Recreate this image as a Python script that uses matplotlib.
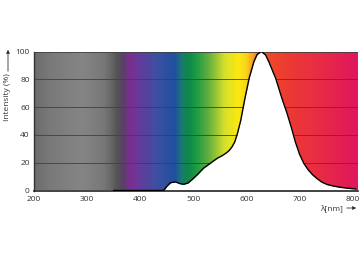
import numpy as np
import matplotlib
matplotlib.use("Agg")
import matplotlib.pyplot as plt
from matplotlib.colors import LinearSegmentedColormap

# Spectrum data (wavelength in nm, relative intensity in %)
wavelength = [350, 444, 450, 457, 466, 476, 482, 490, 498, 507, 519, 532, 545,
              554, 562, 568, 573, 578, 583, 589, 597, 605, 614, 620, 628, 636,
              642, 655, 667, 676, 684, 692, 700, 708, 716, 724, 733, 742, 752,
              765, 777, 792, 806]
intensity = [0, 0, 3, 5.6, 6.2, 4.8, 4.5, 5.4, 8, 11.2, 16, 19.6, 23.2,
             25, 27, 29, 31.5, 35, 41, 50, 66, 80.7, 92.7, 97.8, 100, 97.5,
             92.7, 80.7, 66, 56, 46, 35, 26, 19.5, 15, 11.5, 8.5, 6, 4.3,
             3.1, 2.3, 1.6, 1.1]

x_ticks = [200, 300, 400, 500, 600, 700, 800]
y_ticks = [0, 20, 40, 60, 80, 100]

# background colour bands (wavelength -> colour)
band_nm = [200, 230, 290, 330, 345, 355, 368, 380, 400, 430, 465, 478, 490, 505,
           530, 560, 585, 600, 612, 622, 640, 680, 740, 810]
band_col = ["#6c6c6c", "#7a7a7a", "#858585", "#787878", "#666666", "#555555",
            "#5a3f6a", "#7c2e90", "#623c9c", "#3e4fa2", "#2050a0", "#1a7a70",
            "#0e8848", "#1a9a45", "#66b040", "#d8e02a", "#fbe910", "#f9d41b",
            "#f5a521", "#f27a25", "#ef4a2a", "#ec3a33", "#e82b45", "#e0175c"]

XMIN, XMAX = 200, 810

plt.rcParams['font.family'] = ['Open Sans', 'DejaVu Sans']
fig = plt.figure(figsize=(3.6, 2.62), dpi=100)
ax = fig.add_axes([34/360, 71.5/262, 324/360, 139/262])

pos = [(v - XMIN) / (XMAX - XMIN) for v in band_nm]
cmap = LinearSegmentedColormap.from_list("spec", list(zip(pos, band_col)))
grad = np.linspace(0, 1, 600).reshape(1, -1)
ax.imshow(grad, cmap=cmap, aspect='auto', extent=[XMIN, XMAX, 0, 100],
          interpolation='bilinear', zorder=0)

for yv in y_ticks[1:]:
    ax.axhline(yv, color='#404040', lw=0.6, zorder=1)

ax.fill_between(wavelength, intensity, 0, color='white', lw=0, zorder=2)
ax.plot(wavelength, intensity, color='black', lw=1.0, zorder=3,
        solid_joinstyle='round')

ax.set_xlim(XMIN, XMAX)
ax.set_ylim(0, 100)
ax.set_xticks(x_ticks)
ax.set_yticks(y_ticks)
ax.tick_params(length=0, labelsize=6, colors='#333333')
ax.tick_params(axis='x', pad=4)
ax.tick_params(axis='y', pad=3)
for s in ['top', 'right']:
    ax.spines[s].set_visible(False)
ax.spines['left'].set_color('#333333')
ax.spines['bottom'].set_color('#222222')
ax.spines['left'].set_linewidth(1.0)
ax.spines['bottom'].set_linewidth(1.2)

# y label with arrow
fig.text(8/360, 1 - 97/262, "Intensity (%)", rotation=90, ha='center',
         va='center', fontsize=6, color='#333333')
fig.add_artist(matplotlib.patches.FancyArrowPatch(
    (8/360, 1 - 74/262), (8/360, 1 - 47/262), transform=fig.transFigure,
    arrowstyle='-|>', mutation_scale=5, lw=0.6, color='#333333'))

# x label with arrow
fig.text(343/360, 1 - 208/262, "λ[nm]", ha='right', va='center',
         fontsize=6, color='#333333')
fig.add_artist(matplotlib.patches.FancyArrowPatch(
    (344/360, 1 - 208/262), (359/360, 1 - 208/262), transform=fig.transFigure,
    arrowstyle='-|>', mutation_scale=5, lw=0.6, color='#333333'))

fig.savefig("out.png", dpi=100)
